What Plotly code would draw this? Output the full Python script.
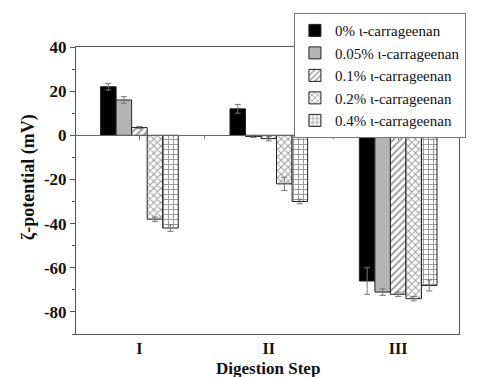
import plotly.graph_objects as go

steps = ["I", "II", "III"]
step_pos = [0, 1, 2]
series_names = ["0% ι-carrageenan", "0.05% ι-carrageenan", "0.1% ι-carrageenan",
                "0.2% ι-carrageenan", "0.4% ι-carrageenan"]
values = [
    [22.0, 12.0, -66.0],
    [16.0, -0.5, -71.0],
    [3.5, -1.5, -72.0],
    [-38.0, -22.0, -74.0],
    [-42.0, -30.0, -68.0],
]
errors = [
    [1.5, 2.0, 6.0],
    [1.5, 0.5, 1.5],
    [0.5, 1.0, 1.0],
    [1.0, 3.0, 1.0],
    [1.5, 1.0, 2.5],
]
fills = ["#000000", "#b4b4b4", "#ffffff", "#ffffff", "#ffffff"]
patterns = ["", "", "/", "x", "+"]
y_ticks = [-80, -60, -40, -20, 0, 20, 40]
x_title = "Digestion Step"
y_title = "ζ-potential (mV)"

FONT = "Liberation Serif"

fig = go.Figure()
for name, v, e, fc, pat in zip(series_names, values, errors, fills, patterns):
    fig.add_trace(go.Bar(
        x=step_pos, y=v, name=name,
        marker=dict(color=fc, line=dict(color="#222222", width=1),
                    pattern=dict(shape=pat, fgcolor="#333333", bgcolor="#ffffff",
                                 size=5, solidity=0.35)),
        error_y=dict(type="data", array=e, visible=True, color="#777777",
                     thickness=1, width=3),
    ))

yr = [-90, 40]
zero_pos = (0 - yr[0]) / (yr[1] - yr[0])

fig.update_layout(
    width=488, height=377,
    margin=dict(l=76, r=29, t=47, b=43),
    paper_bgcolor="white", plot_bgcolor="white",
    barmode="group", bargap=0.4, bargroupgap=0,
    font=dict(family=FONT, color="#111111"),
    showlegend=True,
    legend=dict(x=0.569, y=1.118, xanchor="left", yanchor="top",
                bgcolor="white", bordercolor="#777777", borderwidth=1,
                font=dict(family=FONT, size=15, color="#111111"),
                tracegroupgap=0, itemwidth=30),
    xaxis=dict(range=[-0.49, 2.47], tickmode="array", tickvals=step_pos,
               ticktext=["<b>%s</b>" % s for s in steps],
               showline=True, linecolor="#555555", linewidth=1,
               mirror=True, ticks="", showgrid=False, zeroline=False,
               automargin=False, ticklabelstandoff=0,
               tickfont=dict(family=FONT, size=16, color="#111111")),
    xaxis2=dict(range=[-0.49, 2.47], overlaying="x", anchor="free",
                position=zero_pos, side="bottom", showline=True,
                linecolor="#666666", linewidth=1, ticks="outside", ticklen=4,
                tickcolor="#666666", tickvals=step_pos, showticklabels=False,
                minor=dict(ticks="outside", ticklen=3, tickcolor="#888888",
                           tickvals=[0.5, 1.5]),
                showgrid=False, zeroline=False),
    yaxis=dict(range=yr, tickvals=y_ticks,
               ticktext=["<b>%d</b>" % t for t in y_ticks],
               showline=True, linecolor="#555555", linewidth=1, mirror=True,
               ticks="outside", ticklen=5, tickcolor="#555555",
               minor=dict(ticks="outside", ticklen=3, tickcolor="#555555",
                          dtick=10),
               showgrid=False, zeroline=False, automargin=False,
               tickfont=dict(family=FONT, size=17, color="#111111")),
    annotations=[
        dict(text="<b>%s</b>" % x_title, xref="paper", yref="paper",
             x=0.5, y=-0.12, xanchor="center", yanchor="middle",
             showarrow=False, font=dict(family=FONT, size=17, color="#111111")),
        dict(text="<b>%s</b>" % y_title, xref="paper", yref="paper",
             x=-0.125, y=0.547, xanchor="center", yanchor="middle",
             textangle=-90, showarrow=False,
             font=dict(family=FONT, size=18, color="#111111")),
    ],
)
fig.add_trace(go.Scatter(x=[0], y=[0], xaxis="x2", mode="markers",
                         marker=dict(opacity=0), showlegend=False, hoverinfo="skip"))

fig.write_html("out.html")
